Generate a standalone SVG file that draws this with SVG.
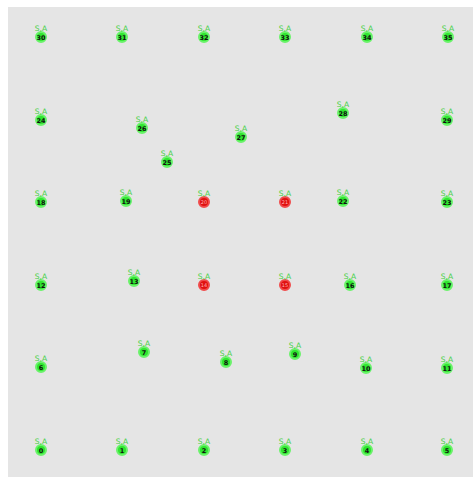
<svg xmlns="http://www.w3.org/2000/svg" width="473" height="477" viewBox="0 0 473 477">
<style>
.n{fill:#2ee62e;stroke:#6af26a;stroke-width:2}
.r{fill:#e01010;stroke:#f04a4a;stroke-width:2}
.t{font-family:"DejaVu Sans",sans-serif;font-size:6.5px;font-weight:bold;fill:#111;text-anchor:middle}
.tr{font-family:"DejaVu Sans",sans-serif;font-size:5px;fill:#ffb0b0;text-anchor:middle}
.l{font-family:"DejaVu Sans",sans-serif;font-size:7.5px;fill:#44d044;text-anchor:middle}
</style>
<rect x="0" y="0" width="473" height="477" fill="#ffffff"/>
<rect x="8" y="7" width="465" height="470" fill="#e5e5e5"/>
<g id="connectors"></g>
<g id="n30"><circle class="n" cx="41" cy="37" r="5"/><text class="l" x="41" y="31">S,A</text><text class="t" x="41" y="39.5">30</text></g>
<g id="n31"><circle class="n" cx="122" cy="37" r="5"/><text class="l" x="122" y="31">S,A</text><text class="t" x="122" y="39.5">31</text></g>
<g id="n32"><circle class="n" cx="204" cy="37" r="5"/><text class="l" x="204" y="31">S,A</text><text class="t" x="204" y="39.5">32</text></g>
<g id="n33"><circle class="n" cx="285" cy="37" r="5"/><text class="l" x="285" y="31">S,A</text><text class="t" x="285" y="39.5">33</text></g>
<g id="n34"><circle class="n" cx="367" cy="37" r="5"/><text class="l" x="367" y="31">S,A</text><text class="t" x="367" y="39.5">34</text></g>
<g id="n35"><circle class="n" cx="448" cy="37" r="5"/><text class="l" x="448" y="31">S,A</text><text class="t" x="448" y="39.5">35</text></g>
<g id="n24"><circle class="n" cx="41" cy="120" r="5"/><text class="l" x="41" y="114">S,A</text><text class="t" x="41" y="122.5">24</text></g>
<g id="n26"><circle class="n" cx="142" cy="128" r="5"/><text class="l" x="142" y="122">S,A</text><text class="t" x="142" y="130.5">26</text></g>
<g id="n27"><circle class="n" cx="241" cy="137" r="5"/><text class="l" x="241" y="131">S,A</text><text class="t" x="241" y="139.5">27</text></g>
<g id="n28"><circle class="n" cx="343" cy="113" r="5"/><text class="l" x="343" y="107">S,A</text><text class="t" x="343" y="115.5">28</text></g>
<g id="n29"><circle class="n" cx="447" cy="120" r="5"/><text class="l" x="447" y="114">S,A</text><text class="t" x="447" y="122.5">29</text></g>
<g id="n25"><circle class="n" cx="167" cy="162" r="5"/><text class="l" x="167" y="156">S,A</text><text class="t" x="167" y="164.5">25</text></g>
<g id="n18"><circle class="n" cx="41" cy="202" r="5"/><text class="l" x="41" y="196">S,A</text><text class="t" x="41" y="204.5">18</text></g>
<g id="n19"><circle class="n" cx="126" cy="201" r="5"/><text class="l" x="126" y="195">S,A</text><text class="t" x="126" y="203.5">19</text></g>
<g id="n20"><circle class="r" cx="204" cy="202" r="5"/><text class="l" x="204" y="196">S,A</text><text class="tr" x="204" y="204">20</text></g>
<g id="n21"><circle class="r" cx="285" cy="202" r="5"/><text class="l" x="285" y="196">S,A</text><text class="tr" x="285" y="204">21</text></g>
<g id="n22"><circle class="n" cx="343" cy="201" r="5"/><text class="l" x="343" y="195">S,A</text><text class="t" x="343" y="203.5">22</text></g>
<g id="n23"><circle class="n" cx="447" cy="202" r="5"/><text class="l" x="447" y="196">S,A</text><text class="t" x="447" y="204.5">23</text></g>
<g id="n12"><circle class="n" cx="41" cy="285" r="5"/><text class="l" x="41" y="279">S,A</text><text class="t" x="41" y="287.5">12</text></g>
<g id="n13"><circle class="n" cx="134" cy="281" r="5"/><text class="l" x="134" y="275">S,A</text><text class="t" x="134" y="283.5">13</text></g>
<g id="n14"><circle class="r" cx="204" cy="285" r="5"/><text class="l" x="204" y="279">S,A</text><text class="tr" x="204" y="287">14</text></g>
<g id="n15"><circle class="r" cx="285" cy="285" r="5"/><text class="l" x="285" y="279">S,A</text><text class="tr" x="285" y="287">15</text></g>
<g id="n16"><circle class="n" cx="350" cy="285" r="5"/><text class="l" x="350" y="279">S,A</text><text class="t" x="350" y="287.5">16</text></g>
<g id="n17"><circle class="n" cx="447" cy="285" r="5"/><text class="l" x="447" y="279">S,A</text><text class="t" x="447" y="287.5">17</text></g>
<g id="n6"><circle class="n" cx="41" cy="367" r="5"/><text class="l" x="41" y="361">S,A</text><text class="t" x="41" y="369.5">6</text></g>
<g id="n7"><circle class="n" cx="144" cy="352" r="5"/><text class="l" x="144" y="346">S,A</text><text class="t" x="144" y="354.5">7</text></g>
<g id="n8"><circle class="n" cx="226" cy="362" r="5"/><text class="l" x="226" y="356">S,A</text><text class="t" x="226" y="364.5">8</text></g>
<g id="n9"><circle class="n" cx="295" cy="354" r="5"/><text class="l" x="295" y="348">S,A</text><text class="t" x="295" y="356.5">9</text></g>
<g id="n10"><circle class="n" cx="366" cy="368" r="5"/><text class="l" x="366" y="362">S,A</text><text class="t" x="366" y="370.5">10</text></g>
<g id="n11"><circle class="n" cx="447" cy="368" r="5"/><text class="l" x="447" y="362">S,A</text><text class="t" x="447" y="370.5">11</text></g>
<g id="n0"><circle class="n" cx="41" cy="450" r="5"/><text class="l" x="41" y="444">S,A</text><text class="t" x="41" y="452.5">0</text></g>
<g id="n1"><circle class="n" cx="122" cy="450" r="5"/><text class="l" x="122" y="444">S,A</text><text class="t" x="122" y="452.5">1</text></g>
<g id="n2"><circle class="n" cx="204" cy="450" r="5"/><text class="l" x="204" y="444">S,A</text><text class="t" x="204" y="452.5">2</text></g>
<g id="n3"><circle class="n" cx="285" cy="450" r="5"/><text class="l" x="285" y="444">S,A</text><text class="t" x="285" y="452.5">3</text></g>
<g id="n4"><circle class="n" cx="367" cy="450" r="5"/><text class="l" x="367" y="444">S,A</text><text class="t" x="367" y="452.5">4</text></g>
<g id="n5"><circle class="n" cx="447" cy="450" r="5"/><text class="l" x="447" y="444">S,A</text><text class="t" x="447" y="452.5">5</text></g>
</svg>
